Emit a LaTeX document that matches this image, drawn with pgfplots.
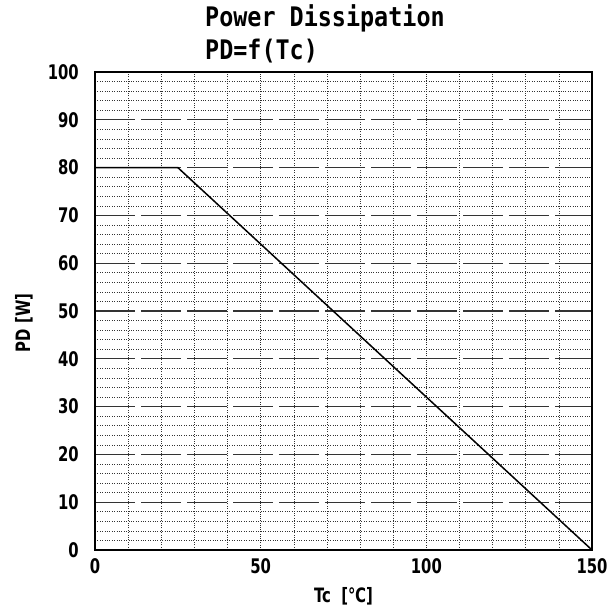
\documentclass[border=0pt]{standalone}
\usepackage{pgfplots}
\pgfplotsset{compat=1.18}
\usepackage{fontspec}
\setmainfont{DejaVu Sans Condensed}
\newfontfamily\titlefont{DejaVu Sans Mono}
\begin{document}
\begin{tikzpicture}
\useasboundingbox (-95pt,-62pt) rectangle (515pt,550pt);
\begin{axis}[
  at={(0,0)}, anchor=south west,
  scale only axis,
  width=497pt, height=478pt,
  xmin=0, xmax=150, ymin=0, ymax=100,
  xtick={0,50,100,150},
  ytick={0,10,...,100},
  minor x tick num=4,
  minor y tick num=4,
  major tick length=0pt, minor tick length=0pt,
  grid=both,
  major x grid style={black!85, line width=0.7pt, dash pattern=on 1pt off 1.2pt},
  minor x grid style={black!80, line width=0.6pt, dash pattern=on 1pt off 1.4pt},
  major y grid style={black!80, line width=1.1pt, dash pattern=on 40pt off 6pt},
  minor y grid style={black!80, line width=0.6pt, dash pattern=on 1pt off 1.4pt},
  axis line style={black, line width=1.3pt},
  /pgf/number format/assume math mode=true,
  ticklabel style={font=\fontsize{16.5}{16}\selectfont\bfseries},
  yticklabel style={inner sep=0pt, xshift=-16pt},
  xticklabel style={inner sep=0pt, yshift=-8pt},
  yticklabel={\scalebox{1}[1.22]{\pgfmathprintnumber{\tick}}},
  xticklabel={\scalebox{1}[1.22]{\pgfmathprintnumber{\tick}}},
  xlabel={\scalebox{1}[1.2]{Tc\ \ [℃]}},
  ylabel={\scalebox{1}[1.2]{PD [W]}},
  label style={font=\fontsize{16.5}{16}\selectfont\bfseries},
  xlabel style={at={(axis description cs:0.5,-0.096)}, anchor=center},
  ylabel style={at={(axis description cs:-0.143,0.475)}, anchor=center},
  clip=false,
]
\addplot[black, line width=1.5pt] coordinates {(0,80) (25,80) (150,0)};
\end{axis}
\node[anchor=base west, inner sep=0pt, font=\titlefont\bfseries\fontsize{23.4}{24}\selectfont] at (110pt,523pt) {\scalebox{1}[1.15]{Power Dissipation}};
\node[anchor=base west, inner sep=0pt, font=\titlefont\bfseries\fontsize{23.4}{24}\selectfont] at (110pt,490pt) {\scalebox{1}[1.15]{PD=f(Tc)}};
\end{tikzpicture}
\end{document}
